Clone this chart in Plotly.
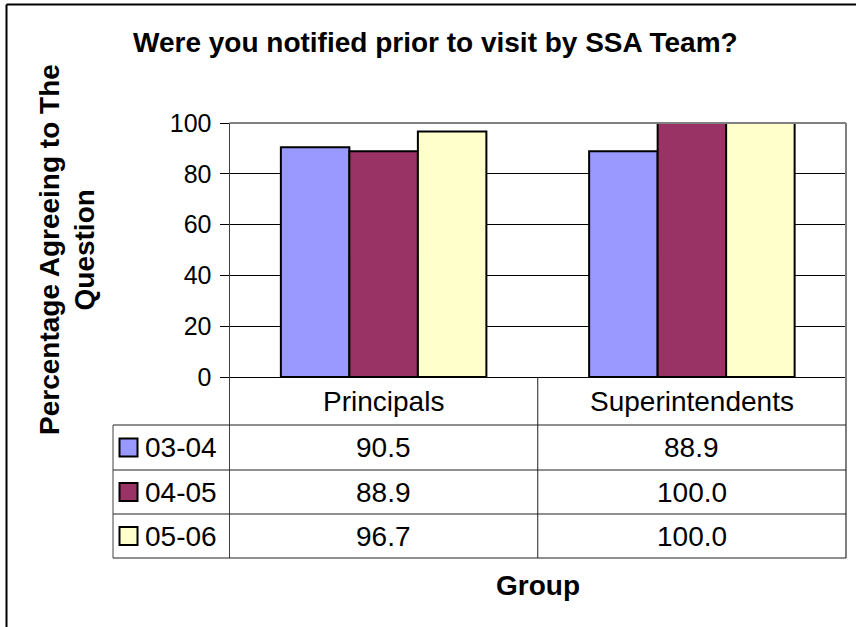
import plotly.graph_objects as go

# ---- data ----
categories = ["Principals", "Superintendents"]
series_names = ["03-04", "04-05", "05-06"]
values_0304 = [90.5, 88.9]
values_0405 = [88.9, 100.0]
values_0506 = [96.7, 100.0]
series_values = [values_0304, values_0405, values_0506]
series_colors = ["#9999FF", "#993366", "#FFFFCC"]
y_ticks = [0, 20, 40, 60, 80, 100]

title_text = "Were you notified prior to visit by SSA Team?"
ytitle_lines = ["Percentage Agreeing to The", "Question"]
xtitle_text = "Group"

W, H = 856, 627
FONT = "Liberation Sans, Arial, Helvetica, sans-serif"
TXT = 28


def xp(px):
    return px / W


def yp(py):
    return 1 - py / H


# pixel layout
PL, PR, PT, PB = 229.5, 846, 123, 377
row_lines = [425, 470, 514, 558]
TL = 113

fig = go.Figure()
for name, vals, col in zip(series_names, series_values, series_colors):
    fig.add_trace(go.Bar(
        x=categories, y=vals, name=name,
        marker=dict(color=col, line=dict(color="black", width=2)),
        showlegend=False,
    ))

shapes = []
# plot border top & right (gray)
shapes.append(dict(type="line", xref="paper", yref="paper", x0=xp(PL), x1=xp(PR),
                   y0=yp(PT), y1=yp(PT), line=dict(color="#808080", width=2), layer="above"))
shapes.append(dict(type="line", xref="paper", yref="paper", x0=xp(PR), x1=xp(PR),
                   y0=yp(PT), y1=yp(row_lines[-1]), line=dict(color="#808080", width=2), layer="above"))
# y-axis line continuing down through the table
shapes.append(dict(type="line", xref="paper", yref="paper", x0=xp(PL), x1=xp(PL),
                   y0=yp(PB), y1=yp(row_lines[-1]), line=dict(color="#404040", width=1)))
# category divider in table
shapes.append(dict(type="line", xref="x", yref="paper", x0=0.5, x1=0.5,
                   y0=yp(PB), y1=yp(row_lines[-1]), line=dict(color="#202020", width=1)))
# horizontal table lines
for r in row_lines:
    shapes.append(dict(type="line", xref="paper", yref="paper", x0=xp(TL), x1=xp(PR),
                       y0=yp(r), y1=yp(r), line=dict(color="#202020", width=1)))
# left table border
shapes.append(dict(type="line", xref="paper", yref="paper", x0=xp(TL), x1=xp(TL),
                   y0=yp(row_lines[0]), y1=yp(row_lines[-1]), line=dict(color="#404040", width=1)))
# outer chart border
shapes.append(dict(type="line", xref="paper", yref="paper", x0=xp(6.5), x1=xp(W + 10),
                   y0=yp(4.5), y1=yp(4.5), line=dict(color="black", width=2)))
shapes.append(dict(type="line", xref="paper", yref="paper", x0=xp(6.5), x1=xp(6.5),
                   y0=yp(4.5), y1=yp(H + 10), line=dict(color="black", width=2)))

annotations = []
# title
annotations.append(dict(text="<b>%s</b>" % title_text, xref="paper", yref="paper",
                        x=xp(435), y=yp(43), xanchor="center", yanchor="middle",
                        showarrow=False, font=dict(size=TXT, color="black", family=FONT)))
# y title (two lines)
for txt, cx in zip(ytitle_lines, [49, 83.5]):
    annotations.append(dict(text="<b>%s</b>" % txt, xref="paper", yref="paper",
                            x=xp(cx), y=yp(250), xanchor="center", yanchor="middle",
                            textangle=-90, showarrow=False,
                            font=dict(size=TXT, color="black", family=FONT)))
# x title
annotations.append(dict(text="<b>%s</b>" % xtitle_text, xref="paper", yref="paper",
                        x=xp(537.5), y=yp(585), xanchor="center", yanchor="middle",
                        showarrow=False, font=dict(size=TXT, color="black", family=FONT)))
# table header (categories)
for i, c in enumerate(categories):
    annotations.append(dict(text=c, xref="x", yref="paper", x=i, y=yp(401),
                            xanchor="center", yanchor="middle", showarrow=False,
                            font=dict(size=TXT, color="black", family=FONT)))
# table rows
for k, (name, vals, col) in enumerate(zip(series_names, series_values, series_colors)):
    top, bot = row_lines[k], row_lines[k + 1]
    cy = (top + bot) / 2
    shapes.append(dict(type="rect", xref="paper", yref="paper",
                       x0=xp(119.5), x1=xp(137.5), y0=yp(cy - 9), y1=yp(cy + 9),
                       fillcolor=col, line=dict(color="black", width=2)))
    annotations.append(dict(text=name, xref="paper", yref="paper", x=xp(143), y=yp(cy),
                            xanchor="left", yanchor="middle", showarrow=False,
                            font=dict(size=TXT, color="black", family=FONT)))
    for i, v in enumerate(vals):
        annotations.append(dict(text="%.1f" % v, xref="x", yref="paper", x=i, y=yp(cy),
                                xanchor="center", yanchor="middle", showarrow=False,
                                font=dict(size=TXT, color="black", family=FONT)))

fig.update_layout(
    width=W, height=H,
    margin=dict(l=0, r=0, t=0, b=0, pad=0, autoexpand=False),
    paper_bgcolor="white", plot_bgcolor="white",
    barmode="group", bargap=1 / 3, bargroupgap=0,
    font=dict(family=FONT, color="black"),
    xaxis=dict(domain=[xp(PL), xp(PR)], range=[-0.5, 1.5], showticklabels=False,
               showline=True, linecolor="black", linewidth=1, ticks="", showgrid=False,
               fixedrange=True),
    yaxis=dict(domain=[yp(PB), yp(PT)], range=[0, 100], tickvals=y_ticks,
               showgrid=True, gridcolor="black", gridwidth=1, zeroline=False,
               showline=True, linecolor="#404040", linewidth=1,
               ticks="outside", ticklen=9, tickcolor="black", tickwidth=1,
               tickfont=dict(size=25, color="black", family=FONT),
               ticklabelstandoff=3, fixedrange=True),
    shapes=shapes, annotations=annotations,
)

fig.write_html("out.html", config={"displayModeBar": False},
               post_script="document.body.style.margin='0';")
